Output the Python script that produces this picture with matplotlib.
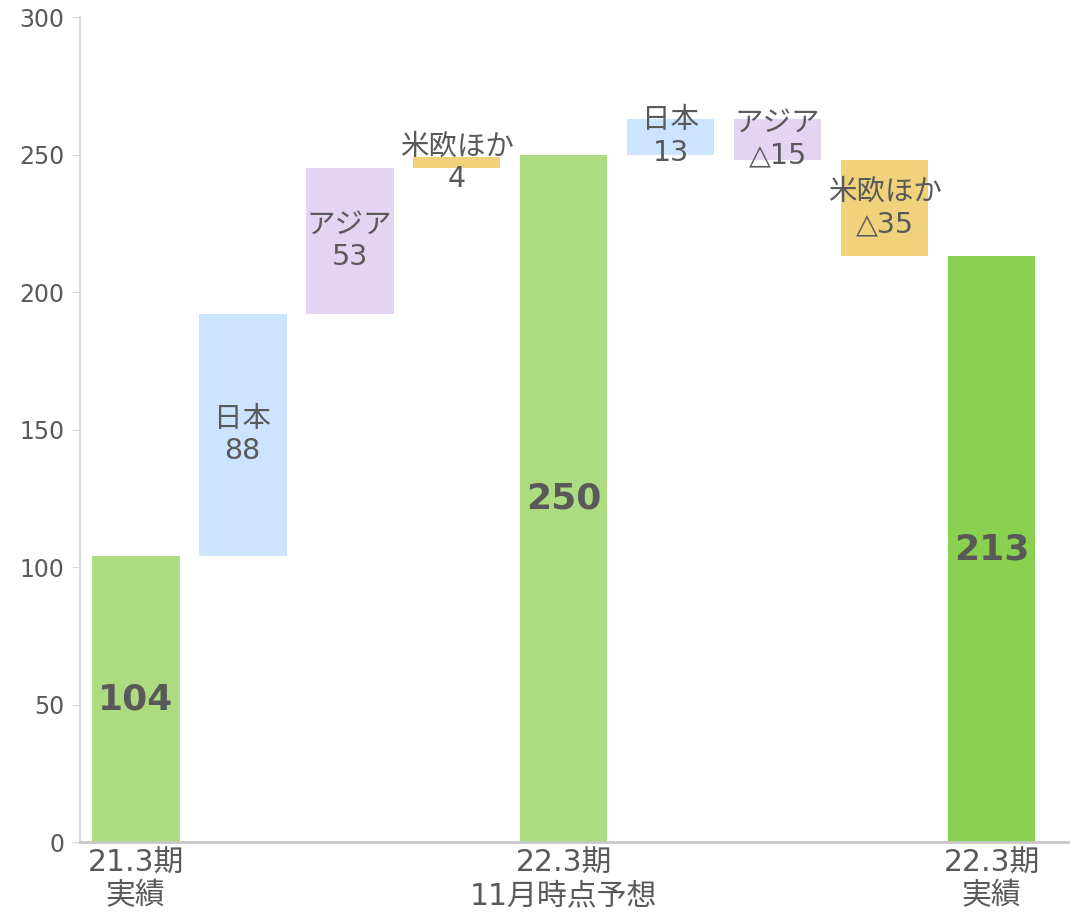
import matplotlib
matplotlib.use('Agg')
import matplotlib.pyplot as plt

plt.rcParams['font.family'] = ['DejaVu Sans', 'Noto Sans CJK JP']

# waterfall data
steps = ['21.3期実績', '日本', 'アジア', '米欧ほか', '22.3期11月時点予想', '日本', 'アジア', '米欧ほか', '22.3期実績']
values = [104, 88, 53, 4, 250, 13, -15, -35, 213]
is_total = [True, False, False, False, True, False, False, False, True]
bar_colors = ['#addb80', '#cce4ff', '#e3d5f2', '#f0d27c', '#addb80',
              '#cce4ff', '#e3d5f2', '#f0d27c', '#8bd150']
cat_pos = [0, 4, 8]
cat_labels = ['21.3期\n実績', '22.3期\n11月時点予想', '22.3期\n実績']
yticks = [0, 50, 100, 150, 200, 250, 300]

text_col = '#595959'
grid_col = '#d9d9d9'

fig = plt.figure(figsize=(10.74, 9.24), dpi=100)
ax = fig.add_axes([0.0745, 0.0887, 0.9195, 0.8929])

#compute bottoms
bottoms = []
heights = []
level = 0
for v, tot in zip(values, is_total):
    if tot:
        bottoms.append(0)
        heights.append(v)
        level = v
    else:
        if v >= 0:
            bottoms.append(level)
        else:
            bottoms.append(level + v)
        heights.append(abs(v))
        level = level + v

x = list(range(len(values)))
ax.bar(x, heights, bottom=bottoms, width=0.82, color=bar_colors, zorder=2)

#labels
for i, (v, tot, name) in enumerate(zip(values, is_total, steps)):
    mid = bottoms[i] + heights[i] / 2
    if tot:
        ax.text(i, mid, str(v), ha='center', va='center', fontsize=26,
                fontweight='bold', color=text_col, zorder=3)
    else:
        num = str(v) if v >= 0 else '△' + str(-v)
        ax.text(i, mid, name + '\n' + num, ha='center', va='center', fontsize=20.5,
                color=text_col, linespacing=1.2, zorder=3)

ax.set_ylim(0, 300)
ax.set_xlim(-0.52, 8.71)
ax.set_yticks(yticks)
ax.set_xticks(cat_pos)
ax.set_xticklabels(cat_labels, fontsize=21.5, color=text_col, linespacing=1.15)
ax.tick_params(axis='x', length=0, pad=5)
ax.tick_params(axis='y', length=6, color=grid_col, labelsize=17, labelcolor=text_col, pad=5)

for s in ['top', 'right']:
    ax.spines[s].set_visible(False)
ax.spines['left'].set_color(grid_col)
ax.spines['bottom'].set_color('#c8c8c8')
ax.spines['left'].set_linewidth(1.5)
ax.spines['bottom'].set_linewidth(2)

plt.savefig('out.png', dpi=100)
